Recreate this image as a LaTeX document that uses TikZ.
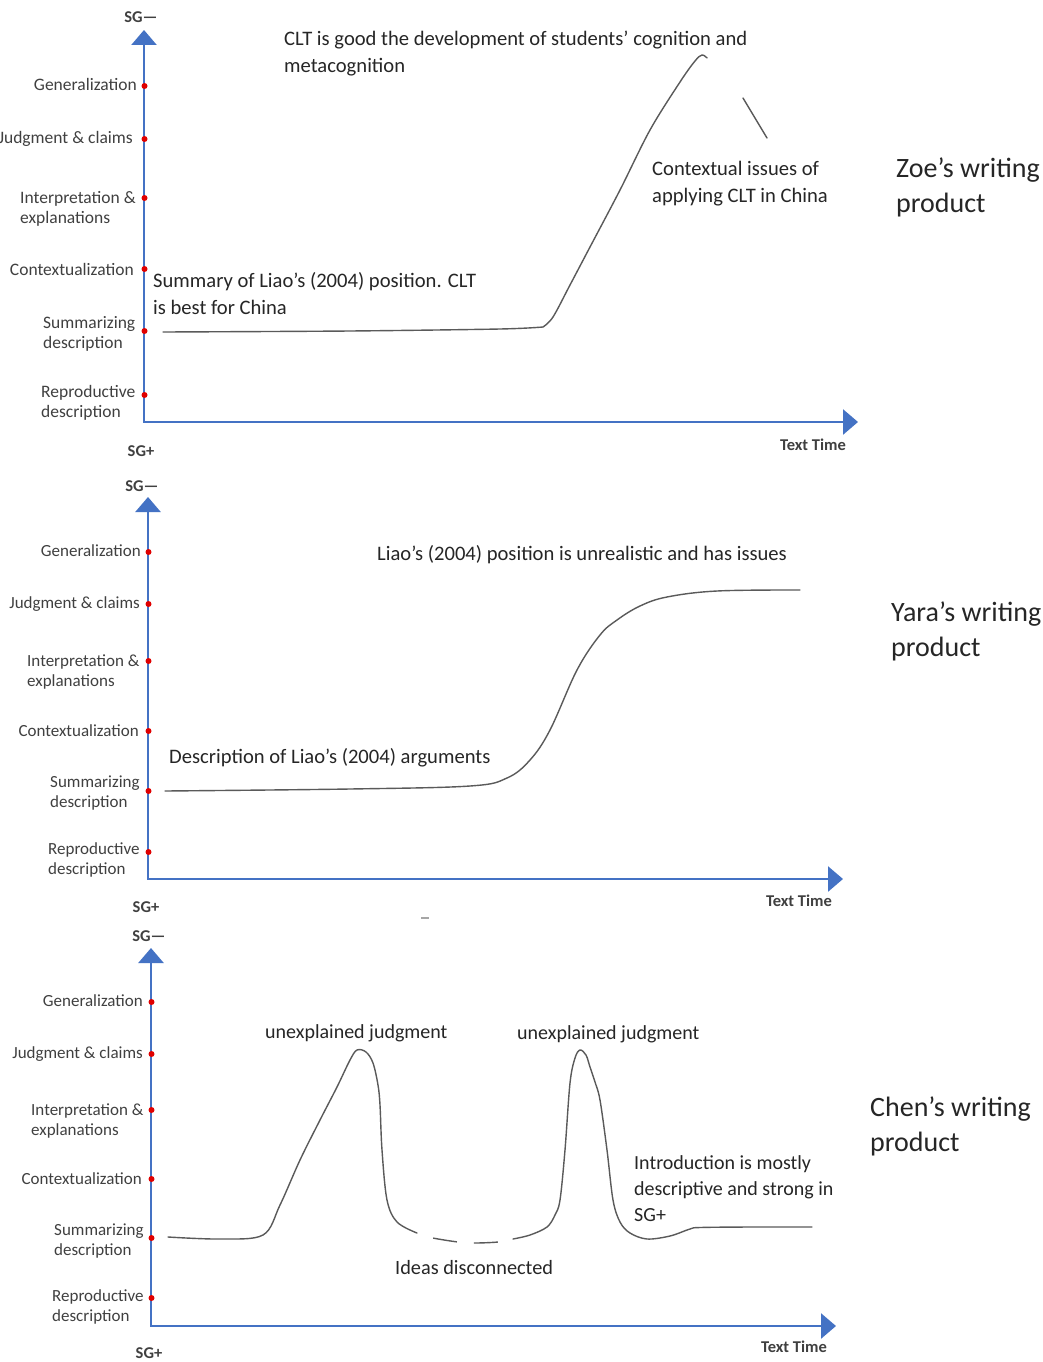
\documentclass[tikz,border=0pt]{standalone}
\usepackage{fontspec}
\setmainfont{Carlito}
\usetikzlibrary{arrows.meta}
\definecolor{axisblue}{HTML}{4472C4}
\definecolor{dotred}{HTML}{E00000}
\definecolor{labelgray}{HTML}{404040}
\definecolor{textdark}{HTML}{262626}
\definecolor{curvegray}{HTML}{5A5A5A}

\begin{document}
\begin{tikzpicture}[x=1pt,y=-1pt,
  axis/.style={draw=axisblue, line width=2.6pt, line join=miter,
    {Triangle[length=15pt,width=25pt]}-{Triangle[length=15pt,width=25pt]}},
  level/.style={circle, fill=dotred, inner sep=0pt, minimum size=6pt},
  lvl/.style={inner sep=0pt, text=labelgray, font=\fontsize{17}{20.5}\selectfont, align=left},
  lvlA/.style={lvl, font=\fontsize{17.5}{20.5}\selectfont},
  endlbl/.style={inner sep=0pt, text=labelgray, font=\fontsize{16.5}{18}\selectfont\bfseries},
  note/.style={inner sep=0pt, text=textdark, font=\fontsize{20.6}{27}\selectfont, align=left, anchor=base west},
  who/.style={inner sep=0pt, text=textdark, font=\fontsize{28}{35}\selectfont, align=left, anchor=base west},
  trace/.style={draw=curvegray, line width=1.4pt, line cap=round, line join=round},
]
\useasboundingbox (0,0) rectangle (1043,1362);
\fill[white] (0,0) rectangle (1043,1362);
\clip (0,0) rectangle (1043,1362);

% Multi-line nodes sit on the baseline of their last line.

% ================= Zoe =================
\coordinate (zt) at (144,30);
\coordinate (zo) at (144,422);
\coordinate (zr) at (858,422);
\draw[axis] (zt) -- (zo) -- (zr);
\node[endlbl] (zsgm) at (141,17) {SG—};
\node[endlbl] (zsgp) at (141,451) {SG+};
\node[endlbl] (ztt) at (813,445) {Text Time};
\foreach \yy/\nm in {86/g,139/j,198/i,269/c,331/s,395/r}
  \node[level] (zd\nm) at (144.5,\yy) {};
\node[lvlA, anchor=base east] (zlg) at (137,91) {Generalization};
\node[lvlA, anchor=base east] (zlj) at (133,143) {Judgment \& claims};
\node[lvlA, anchor=base west] (zli) at (20,223.5) {Interpretation \&\\explanations};
\node[lvlA, anchor=base east] (zlc) at (134,275) {Contextualization};
\node[lvlA, anchor=base west] (zls) at (43,348.5) {Summarizing\\description};
\node[lvlA, anchor=base west] (zlr) at (41,417.5) {Reproductive\\description};

\draw[trace] plot[smooth, tension=0.5] coordinates {(163,332) (350,331) (500,329) (543,327)}
  -- plot[smooth, tension=0.55] coordinates {(543,327) (553,317) (570,285) (590,247) (620,190) (650,130) (680,82) (695,61) (702,55) (707,58)};
\draw[trace] (743,98) -- (767,138);

\node[note] (zn1) at (284,73) {CLT is good the development of students’ cognition and\\metacognition};
\node[note] (zn2) at (652,202) {Contextual issues of\\applying CLT in China};
\node[note] (zn3) at (153,314) {Summary of Liao’s (2004) position. CLT\\is best for China};
\node[who] (zw) at (896,212) {Zoe’s writing\\product};

% ================= Yara =================
\coordinate (yt) at (148,497);
\coordinate (yo) at (148,879);
\coordinate (yr) at (843,879);
\draw[axis] (yt) -- (yo) -- (yr);
\node[endlbl] (ysgm) at (142,486) {SG—};
\node[endlbl] (ysgp) at (146,907) {SG+};
\node[endlbl] (ytt) at (799,901) {Text Time};
\foreach \yy/\nm in {552/g,604/j,661/i,731/c,791/s,852/r}
  \node[level] (yd\nm) at (148.5,\yy) {};
\node[lvl, anchor=base east] (ylg) at (141,556) {Generalization};
\node[lvl, anchor=base east] (ylj) at (140,608) {Judgment \& claims};
\node[lvl, anchor=base west] (yli) at (27,686.5) {Interpretation \&\\explanations};
\node[lvl, anchor=base east] (ylc) at (139,736) {Contextualization};
\node[lvl, anchor=base west] (yls) at (50,807.5) {Summarizing\\description};
\node[lvl, anchor=base west] (ylr) at (48,874.5) {Reproductive\\description};

\draw[trace] plot[smooth, tension=0.6] coordinates {(165,791) (350,789) (470,786) (507,778) (530,760) (550,730) (577,670) (600,635) (617,620) (640,606) (667,597) (717,591) (800,590)};

\node[note] (yn1) at (377,560) {Liao’s (2004) position is unrealistic and has issues};
\node[note] (yn2) at (169,763) {Description of Liao’s (2004) arguments};
\node[who] (yw) at (891,656) {Yara’s writing\\product};
\draw[gray!70, line width=2pt] (421,918) -- (429,918);

% ================= Chen =================
\coordinate (ct) at (151,948);
\coordinate (co) at (151,1326);
\coordinate (cr) at (836,1326);
\draw[axis] (ct) -- (co) -- (cr);
\node[endlbl] (csgm) at (149,936) {SG—};
\node[endlbl] (csgp) at (149,1353) {SG+};
\node[endlbl] (ctt) at (794,1347) {Text Time};
\foreach \yy/\nm in {1002/g,1054/j,1110/i,1179/c,1238/s,1298/r}
  \node[level] (cd\nm) at (151.5,\yy) {};
\node[lvl, anchor=base east] (clg) at (143,1006) {Generalization};
\node[lvl, anchor=base east] (clj) at (143,1058) {Judgment \& claims};
\node[lvl, anchor=base west] (cli) at (31,1135.5) {Interpretation \&\\explanations};
\node[lvl, anchor=base east] (clc) at (142,1184) {Contextualization};
\node[lvl, anchor=base west] (cls) at (54,1255.5) {Summarizing\\description};
\node[lvl, anchor=base west] (clr) at (52,1321.5) {Reproductive\\description};

% first peak
\draw[trace] plot[smooth, tension=0.55] coordinates {(168,1237) (220,1239) (263,1235) (280,1205) (300,1160) (320,1120) (337,1087) (350,1060) (357,1050) (366,1052) (373,1063) (378,1085) (380,1105) (382,1150) (387,1200) (397,1222) (417,1233)};
% broken stretch between the peaks
\draw[trace, line cap=butt, dash pattern=on 24pt off 17pt, dash phase=24pt] plot[smooth, tension=0.5] coordinates {(417,1233) (433,1238) (458,1242) (475,1243) (498,1242) (513,1239)};
% second peak and tail
\draw[trace] plot[smooth, tension=0.55] coordinates {(513,1239) (530,1235) (547,1227) (555,1215) (560,1200) (565,1150) (570,1083) (575,1058) (580,1050) (586,1055) (590,1067) (595,1082) (600,1100) (607,1150) (613,1200) (620,1222) (630,1233) (647,1239) (670,1236) (690,1229) (700,1227.5) (750,1227) (812,1227)};

\node[note, font=\fontsize{20}{27}\selectfont] (cn1) at (265,1038) {unexplained judgment};
\node[note, font=\fontsize{20}{27}\selectfont] (cn2) at (517,1039) {unexplained judgment};
\node[note, font=\fontsize{20}{26}\selectfont] (cn3) at (634,1221) {Introduction is mostly\\descriptive and strong in\\SG+};
\node[note, font=\fontsize{20.3}{27}\selectfont] (cn4) at (395,1274) {Ideas disconnected};
\node[who] (cw) at (870,1151) {Chen’s writing\\product};
\end{tikzpicture}
\end{document}
